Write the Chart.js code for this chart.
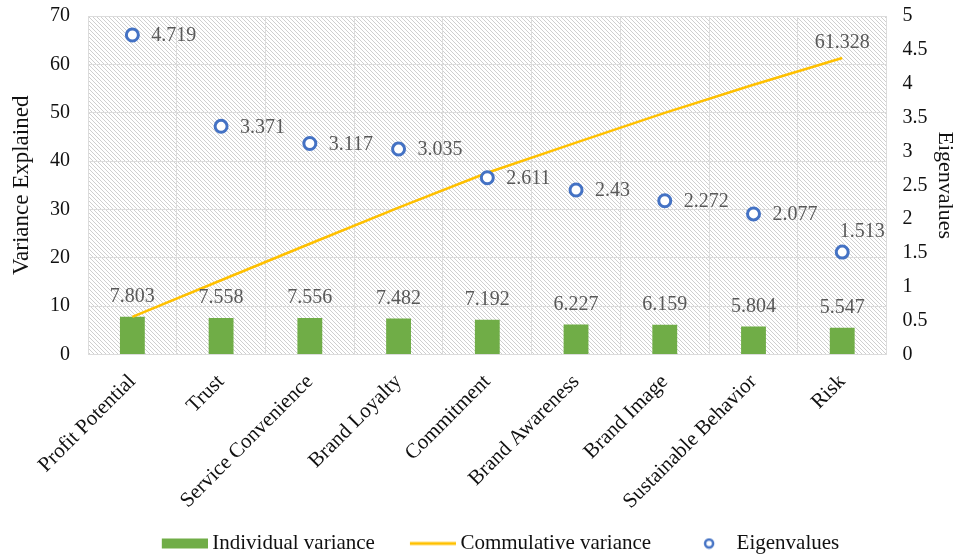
<!DOCTYPE html>
<html>
<head>
<meta charset="utf-8">
<script src="https://cdn.jsdelivr.net/npm/chart.js@4"></script>
<style>
  html, body { margin: 0; padding: 0; background: #fff; }
  #wrap { width: 964px; height: 556px; position: relative; }
</style>
</head>
<body>
<div id="wrap"><canvas id="grafico"></canvas></div>
<script>
const factores = ['Profit Potential', 'Trust', 'Service Convenience', 'Brand Loyalty', 'Commitment',
  'Brand Awareness', 'Brand Image', 'Sustainable Behavior', 'Risk'];
const varianzaIndividual = [7.803, 7.558, 7.556, 7.482, 7.192, 6.227, 6.159, 5.804, 5.547];
const varianzaAcumulada = [7.803, 15.361, 22.917, 30.399, 37.591, 43.818, 49.977, 55.781, 61.328];
const autovalores = [4.719, 3.371, 3.117, 3.035, 2.611, 2.43, 2.272, 2.077, 1.513];
const ticksIzq = [0, 10, 20, 30, 40, 50, 60, 70];
const ticksDer = [0, 0.5, 1, 1.5, 2, 2.5, 3, 3.5, 4, 4.5, 5];

const VERDE = '#70AD47';
const AMARILLO = '#FFC000';
const AZUL = '#4472C4';
const FUENTE = '"Liberation Serif", "Times New Roman", serif';

// trama rayada del fondo del area de dibujo
function crearTrama() {
    const c = document.createElement('canvas');
    c.width = 4; c.height = 4;
    const g = c.getContext('2d');
    g.fillStyle = '#fff';
    g.fillRect(0, 0, 4, 4);
    g.strokeStyle = '#cfcfcf';
    g.lineWidth = 1;
    g.beginPath();
    g.moveTo(-1, -1); g.lineTo(5, 5);
    g.moveTo(-1, 3); g.lineTo(1, 5);
    g.moveTo(3, -1); g.lineTo(5, 1);
    g.stroke();
    return c;
}

// iconos de la leyenda: 83px de ancho, la marca ocupa los ultimos 46px
// (el hueco de la izquierda separa cada entrada de la anterior)
function icono(tipo) {
    const c = document.createElement('canvas');
    c.width = 83; c.height = 12;
    const g = c.getContext('2d');
    if (tipo === 'barra') {
        g.fillStyle = VERDE;
        g.fillRect(37, 1, 46, 10);
    } else if (tipo === 'linea') {
        g.strokeStyle = AMARILLO;
        g.lineWidth = 3;
        g.beginPath(); g.moveTo(37, 6); g.lineTo(83, 6); g.stroke();
    } else {
        g.strokeStyle = AZUL;
        g.lineWidth = 2.5;
        g.beginPath(); g.arc(60, 6, 4, 0, Math.PI * 2); g.stroke();
    }
    return c;
}

const fondoRayado = {
    id: 'fondoRayado',
    beforeDraw(chart) {
        const { ctx, chartArea: a } = chart;
        ctx.save();
        ctx.fillStyle = ctx.createPattern(crearTrama(), 'repeat');
        ctx.fillRect(a.left, a.top, a.right - a.left, a.bottom - a.top);
        ctx.restore();
    }
};

const etiquetas = {
    id: 'etiquetas',
    afterDatasetsDraw(chart) {
        const ctx = chart.ctx;
        ctx.save();
        ctx.font = '20px ' + FUENTE;
        ctx.fillStyle = '#595959';

        ctx.textAlign = 'center';
        ctx.textBaseline = 'bottom';
        chart.getDatasetMeta(0).data.forEach((bar, i) => {
            ctx.fillText(varianzaIndividual[i].toString(), bar.x, bar.y - 10);
        });

        const lineaMeta = chart.getDatasetMeta(1).data;
        const ultimo = lineaMeta[lineaMeta.length - 1];
        ctx.fillText(varianzaAcumulada[varianzaAcumulada.length - 1].toString(), ultimo.x, ultimo.y - 5);

        // autovalores: a la derecha del punto, el ultimo encima
        const puntos = chart.getDatasetMeta(2).data;
        puntos.forEach((pt, i) => {
            if (i === puntos.length - 1) {
                ctx.textAlign = 'center';
                ctx.textBaseline = 'bottom';
                ctx.fillText(autovalores[i].toString(), pt.x + 20, pt.y - 10);
            } else {
                ctx.textAlign = 'left';
                ctx.textBaseline = 'middle';
                ctx.fillText(autovalores[i].toString(), pt.x + 19, pt.y + 1);
            }
        });
        ctx.restore();
    }
};

const ctx = document.getElementById('grafico').getContext('2d');
new Chart(ctx, {
    data: {
        labels: factores,
        datasets: [
            {
                type: 'bar',
                label: 'Individual variance',
                data: varianzaIndividual,
                backgroundColor: VERDE,
                categoryPercentage: 1,
                barPercentage: 0.28,
                yAxisID: 'y',
                order: 3,
            },
            {
                type: 'line',
                label: 'Commulative variance',
                data: varianzaAcumulada,
                borderColor: AMARILLO,
                backgroundColor: AMARILLO,
                borderWidth: 2.5,
                pointRadius: 0,
                tension: 0,
                yAxisID: 'y',
                order: 2,
            },
            {
                type: 'line',
                label: 'Eigenvalues',
                data: autovalores,
                showLine: false,
                pointRadius: 6,
                pointBorderWidth: 3,
                pointBorderColor: AZUL,
                pointBackgroundColor: '#fff',
                yAxisID: 'y1',
                order: 1,
            },
        ],
    },
    options: {
        responsive: true,
        maintainAspectRatio: false,
        animation: false,
        layout: { padding: { left: 8, right: 2, top: 2, bottom: -8 } },
        plugins: {
            tooltip: { enabled: false },
            legend: {
                position: 'bottom',
                labels: {
                    usePointStyle: true,
                    pointStyleWidth: 71,
                    padding: 4,
                    color: '#111',
                    font: { family: FUENTE, size: 21 },
                    generateLabels(chart) {
                        const tipos = ['barra', 'linea', 'punto'];
                        return chart.data.datasets.map((ds, i) => ({
                            text: ds.label,
                            pointStyle: icono(tipos[i]),
                            datasetIndex: i,
                            hidden: false,
                            lineWidth: 0,
                            fontColor: '#111',
                        }));
                    },
                },
            },
        },
        scales: {
            x: {
                offset: true,
                grid: { offset: true, color: '#dcdcdc', drawTicks: false },
                border: { color: '#dcdcdc' },
                ticks: {
                    maxRotation: 45,
                    minRotation: 45,
                    padding: 15,
                    color: '#111',
                    font: { family: FUENTE, size: 21 },
                },
            },
            y: {
                position: 'left',
                min: 0,
                max: 70,
                afterBuildTicks(axis) { axis.ticks = ticksIzq.map(v => ({ value: v })); },
                afterFit(scale) { scale.width = 80; },
                grid: { color: '#dcdcdc', drawTicks: true, tickLength: 14, tickColor: 'rgba(0,0,0,0)' },
                border: { display: false },
                ticks: { padding: 4, color: '#111', font: { family: FUENTE, size: 20 } },
                title: {
                    display: true,
                    text: 'Variance Explained',
                    color: '#111',
                    font: { family: FUENTE, size: 23 },
                    padding: { top: 0, bottom: 4 },
                },
            },
            y1: {
                position: 'right',
                min: 0,
                max: 5,
                afterBuildTicks(axis) { axis.ticks = ticksDer.map(v => ({ value: v })); },
                grid: { drawOnChartArea: false, drawTicks: true, tickLength: 12, tickColor: 'rgba(0,0,0,0)' },
                border: { display: false },
                ticks: {
                    padding: 4,
                    color: '#111',
                    font: { family: FUENTE, size: 20 },
                    callback: v => v.toString(),
                },
                title: {
                    display: true,
                    text: 'Eigenvalues',
                    color: '#111',
                    font: { family: FUENTE, size: 22 },
                    padding: { top: 4, bottom: 0 },
                },
            },
        },
    },
    plugins: [fondoRayado, etiquetas],
});
</script>
</body>
</html>
